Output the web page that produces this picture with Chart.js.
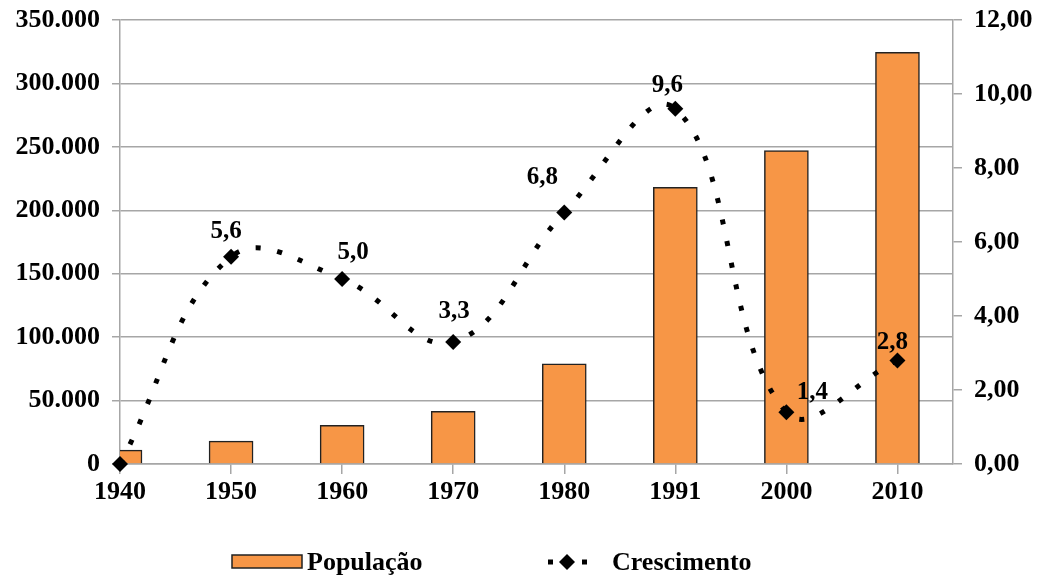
<!DOCTYPE html>
<html>
<head>
<meta charset="utf-8">
<style>
  html, body { margin: 0; padding: 0; background: #fff; }
</style>
<script src="https://cdn.jsdelivr.net/npm/chart.js@4/dist/chart.umd.min.js"></script>
</head>
<body>
<canvas id="canvas" width="1040" height="577"></canvas>
<script>
const years = ["1940", "1950", "1960", "1970", "1980", "1991", "2000", "2010"];
const population = [11000, 18000, 30500, 41500, 79000, 218000, 247000, 324500];
const growth = [0, 5.6, 5.0, 3.3, 6.8, 9.6, 1.4, 2.8];
const leftTicks = [0, 50000, 100000, 150000, 200000, 250000, 300000, 350000];
const rightTicks = [0, 2, 4, 6, 8, 10, 12];

// where each growth label sits relative to its point
const labelOffsets = [null, [-5, -25], [11, -26], [1, -30], [-22, -35], [-8, -23], [26, -20], [-5, -18]];

const FONT = "'Liberation Serif', 'Times New Roman', serif";
const ORANGE = "#F79646";
const GRID = "#a6a6a6";

const ctx = document.getElementById("canvas").getContext("2d");

const growthLabels = {
  id: "growthLabels",
  afterDatasetsDraw(chart) {
    const c = chart.ctx;
    const meta = chart.getDatasetMeta(0);
    c.save();
    c.font = "bold 25px " + FONT;
    c.fillStyle = "#000";
    c.textAlign = "center";
    c.textBaseline = "middle";
    meta.data.forEach((pt, i) => {
      if (!labelOffsets[i]) return;
      const txt = growth[i].toFixed(1).replace(".", ",");
      c.fillText(txt, pt.x + labelOffsets[i][0], pt.y + labelOffsets[i][1]);
    });
    c.restore();
  }
};

const bottomLegend = {
  id: "bottomLegend",
  afterDraw(chart) {
    const c = chart.ctx;
    const y = 562;
    c.save();
    c.fillStyle = ORANGE;
    c.strokeStyle = "#222";
    c.lineWidth = 1.5;
    c.fillRect(232, 555, 70, 13);
    c.strokeRect(232, 555, 70, 13);

    c.fillStyle = "#000";
    c.fillRect(548, y - 2.5, 5, 5);
    c.fillRect(582, y - 2.5, 5, 5);
    c.beginPath();
    c.moveTo(567, y - 8);
    c.lineTo(575, y);
    c.lineTo(567, y + 8);
    c.lineTo(559, y);
    c.closePath();
    c.fill();

    c.font = "bold 26px " + FONT;
    c.textAlign = "left";
    c.textBaseline = "middle";
    c.fillText("População", 307, y + 1);
    c.fillText("Crescimento", 612, y + 1);
    c.restore();
  }
};

const tickFont = { family: FONT, size: 26, weight: "bold" };

new Chart(ctx, {
  type: "bar",
  data: {
    datasets: [
      {
        type: "line",
        label: "Crescimento",
        data: growth.map((v, i) => ({ x: i, y: v })),
        yAxisID: "y1",
        borderColor: "#000",
        borderWidth: 5,
        borderDash: [5, 17],
        borderCapStyle: "butt",
        tension: 0.4,
        pointStyle: "rectRot",
        pointRadius: 8,
        pointBackgroundColor: "#000",
        pointBorderWidth: 0,
        clip: false
      },
      {
        type: "bar",
        label: "População",
        data: population.map((v, i) => ({ x: i, y: v })),
        yAxisID: "y",
        backgroundColor: ORANGE,
        borderColor: "#222",
        borderWidth: 1.5,
        barThickness: 44,
        clip: 0
      }
    ]
  },
  options: {
    responsive: false,
    animation: false,
    layout: { padding: { top: 20, left: 0, right: 0, bottom: 0 } },
    plugins: {
      legend: { display: false },
      tooltip: { enabled: false }
    },
    scales: {
      x: {
        type: "linear",
        offset: false,
        min: 0,
        max: 7.5,
        afterBuildTicks: (s) => { s.ticks = years.map((_, i) => ({ value: i })); },
        afterFit: (s) => { s.height = 113; s.paddingLeft = 0; s.paddingRight = 0; },
        grid: { offset: false, drawOnChartArea: false, color: GRID, lineWidth: 1.5, tickLength: 10 },
        border: { color: GRID, width: 1.5 },
        ticks: {
          callback: (v) => years[v],
          font: tickFont,
          color: "#000",
          padding: 3,
          maxRotation: 0
        }
      },
      y: {
        position: "left",
        min: 0,
        max: 350000,
        afterBuildTicks: (s) => { s.ticks = leftTicks.map((v) => ({ value: v })); },
        afterFit: (s) => { s.width = 120; s.paddingTop = 0; s.paddingBottom = 0; },
        grid: { color: GRID, lineWidth: 1.5, tickLength: 8 },
        border: { color: GRID, width: 1.5 },
        ticks: {
          callback: (v) => v.toLocaleString("de-DE"),
          font: tickFont,
          color: "#000",
          padding: 12
        }
      },
      y1: {
        position: "right",
        min: 0,
        max: 12,
        afterBuildTicks: (s) => { s.ticks = rightTicks.map((v) => ({ value: v })); },
        afterFit: (s) => { s.width = 87; s.paddingTop = 0; s.paddingBottom = 0; },
        grid: { drawOnChartArea: false, color: GRID, lineWidth: 1.5, tickLength: 9 },
        border: { color: GRID, width: 1.5 },
        ticks: {
          callback: (v) => v.toFixed(2).replace(".", ","),
          font: tickFont,
          color: "#000",
          padding: 12
        }
      }
    }
  },
  plugins: [growthLabels, bottomLegend]
});
</script>
</body>
</html>
